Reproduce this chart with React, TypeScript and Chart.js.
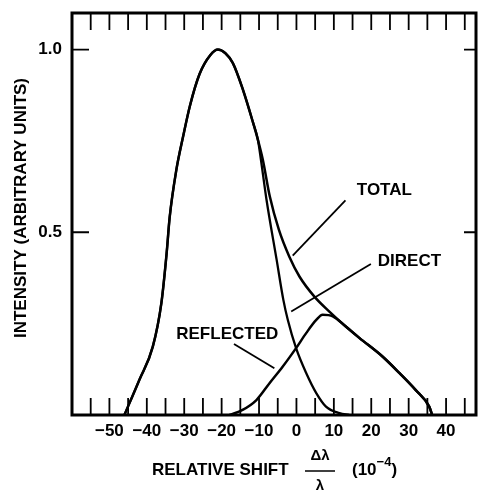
import React, { useEffect, useRef } from 'react';
import { Chart, registerables } from 'chart.js';

Chart.register(...registerables);

const FONT = "'Liberation Sans', Arial, Helvetica, sans-serif";

// DIRECT (large peak)
const directX = [-46, -42, -38.4, -36.1, -34.7, -33.9, -32.1, -30.3, -28.5, -25.9, -23, -21, -19, -17, -14.3, -11.6, -10.3, -9.5, -8.0, -5.3, -3.5, -2.3, -0.1, 2.6, 5.3, 7.9, 11.5, 14.1];
const directY = [0, 0.096, 0.187, 0.307, 0.443, 0.54, 0.671, 0.762, 0.845, 0.933, 0.985, 1.0, 0.99, 0.963, 0.89, 0.8, 0.753, 0.699, 0.589, 0.425, 0.315, 0.26, 0.183, 0.115, 0.06, 0.023, 0.005, 0];

// TOTAL
const totalX = [-46, -42, -38.4, -36.1, -34.7, -33.9, -32.1, -30.3, -28.5, -25.9, -23, -21, -19, -17, -14.3, -11.6, -10.3, -9.0, -7.1, -4.7, -1.9, 0.8, 4.8, 8.8, 13.2, 16.8, 23, 27.5, 31.9, 35.5, 36.3];
const totalY = [0, 0.096, 0.187, 0.307, 0.443, 0.54, 0.671, 0.762, 0.845, 0.933, 0.985, 1.0, 0.99, 0.963, 0.89, 0.8, 0.753, 0.699, 0.597, 0.507, 0.433, 0.379, 0.324, 0.283, 0.242, 0.211, 0.16, 0.115, 0.068, 0.023, 0];

// REFLECTED (small peak)
const reflectedX = [-17.9, -14.4, -10.7, -7.2, -3.7, -0.1, 2.6, 5.3, 7, 9.7, 13.2, 16.8, 23, 27.5, 31.9, 35.5, 36.3];
const reflectedY = [0, 0.014, 0.041, 0.087, 0.132, 0.183, 0.224, 0.26, 0.274, 0.27, 0.242, 0.211, 0.16, 0.115, 0.068, 0.023, 0];

// axes
const xMin = -60;
const xMax = 48;
const xStep = 5;
const yMin = 0;
const yMax = 1.1;
const yStep = 0.5;
const xLabelValues = [-50, -40, -30, -20, -10, 0, 10, 20, 30, 40];
const yLabelValues = [0.5, 1.0];

// annotations (data coordinates)
const noteTexts = ['TOTAL', 'DIRECT', 'REFLECTED'];
const noteX = [23.5, 30.2, -18.5];
const noteY = [0.618, 0.423, 0.225];
const leaderFromX = [13.1, 19.9, -16.7];
const leaderFromY = [0.587, 0.413, 0.194];
const leaderToX = [-1.0, -1.4, -5.9];
const leaderToY = [0.436, 0.283, 0.128];

const yTitle = 'INTENSITY (ARBITRARY UNITS)';
const xTitle = 'RELATIVE SHIFT';

function pts(xs: number[], ys: number[]) {
  return xs.map((x, i) => ({ x, y: ys[i] }));
}

const framePlugin = {
  id: 'frame',
  beforeDraw(chart: any) {
    const { ctx, width, height } = chart;
    ctx.save();
    ctx.fillStyle = '#fff';
    ctx.fillRect(0, 0, width, height);
    ctx.restore();
  },
  afterDraw(chart: any) {
    const { ctx, chartArea: a } = chart;
    const xs = chart.scales.x;
    const ys = chart.scales.y;
    ctx.save();
    ctx.strokeStyle = '#000';
    ctx.fillStyle = '#000';
    ctx.lineCap = 'butt';

    // inward ticks
    ctx.lineWidth = 1.8;
    xs.ticks.forEach((t: any) => {
      const v = t.value;
      if (v <= xMin || v >= xMax) return;
      const px = xs.getPixelForValue(v);
      ctx.beginPath();
      ctx.moveTo(px, a.top);
      ctx.lineTo(px, a.top + 17);
      ctx.moveTo(px, a.bottom);
      ctx.lineTo(px, a.bottom - 17);
      ctx.stroke();
    });
    ys.ticks.forEach((t: any) => {
      const v = t.value;
      if (v <= yMin || v >= yMax) return;
      const py = ys.getPixelForValue(v);
      ctx.beginPath();
      ctx.moveTo(a.left, py);
      ctx.lineTo(a.left + 17, py);
      ctx.moveTo(a.right, py);
      ctx.lineTo(a.right - 12, py);
      ctx.stroke();
    });

    // frame
    ctx.lineWidth = 3;
    ctx.strokeRect(a.left, a.top, a.right - a.left, a.bottom - a.top);

    // annotations
    ctx.font = `bold 17px ${FONT}`;
    ctx.textAlign = 'center';
    ctx.textBaseline = 'alphabetic';
    noteTexts.forEach((txt, i) => {
      ctx.fillText(txt, xs.getPixelForValue(noteX[i]), ys.getPixelForValue(noteY[i]) + 6);
      ctx.lineWidth = 1.8;
      ctx.beginPath();
      ctx.moveTo(xs.getPixelForValue(leaderFromX[i]), ys.getPixelForValue(leaderFromY[i]));
      ctx.lineTo(xs.getPixelForValue(leaderToX[i]), ys.getPixelForValue(leaderToY[i]));
      ctx.stroke();
    });

    // y title
    ctx.save();
    ctx.translate(a.left - 52, (a.top + a.bottom) / 2 - 6);
    ctx.rotate(-Math.PI / 2);
    ctx.textAlign = 'center';
    ctx.font = `bold 17px ${FONT}`;
    ctx.fillText(yTitle, 0, 6);
    ctx.restore();

    // x title
    const by = a.bottom + 60;
    ctx.textAlign = 'left';
    ctx.font = `bold 17px ${FONT}`;
    ctx.fillText(xTitle, a.left + 80, by);
    const fx = a.left + 248;
    ctx.textAlign = 'center';
    ctx.font = `bold 15px ${FONT}`;
    ctx.fillText('Δλ', fx, a.bottom + 45);
    ctx.fillText('λ', fx, a.bottom + 75);
    ctx.lineWidth = 1.5;
    ctx.beginPath();
    ctx.moveTo(fx - 15, a.bottom + 56);
    ctx.lineTo(fx + 15, a.bottom + 56);
    ctx.stroke();
    ctx.textAlign = 'left';
    let cx = a.left + 280;
    ctx.font = `bold 17px ${FONT}`;
    ctx.fillText('(10', cx, by);
    cx += ctx.measureText('(10').width;
    ctx.font = `bold 13px ${FONT}`;
    ctx.fillText('−4', cx, by - 9);
    cx += ctx.measureText('−4').width;
    ctx.font = `bold 17px ${FONT}`;
    ctx.fillText(')', cx, by);

    ctx.restore();
  },
};

export default function App() {
  const ref = useRef<HTMLCanvasElement | null>(null);

  useEffect(() => {
    document.body.style.margin = '0';
    if (!ref.current) return;
    const tickFont = { family: FONT, size: 17, weight: 'bold' as const };
    const chart = new Chart(ref.current, {
      type: 'line',
      data: {
        datasets: [
          {
            label: 'DIRECT',
            data: pts(directX, directY),
            borderColor: '#000',
            borderWidth: 2.3,
            pointRadius: 0,
            fill: false,
            cubicInterpolationMode: 'monotone',
          },
          {
            label: 'TOTAL',
            data: pts(totalX, totalY),
            borderColor: '#000',
            borderWidth: 2.5,
            pointRadius: 0,
            fill: false,
            cubicInterpolationMode: 'monotone',
          },
          {
            label: 'REFLECTED',
            data: pts(reflectedX, reflectedY),
            borderColor: '#000',
            borderWidth: 2.5,
            pointRadius: 0,
            fill: false,
            cubicInterpolationMode: 'monotone',
          },
        ],
      },
      options: {
        animation: false,
        responsive: true,
        maintainAspectRatio: false,
        layout: { padding: { top: 13, right: 9, left: 0, bottom: 0 } },
        plugins: { legend: { display: false }, tooltip: { enabled: false } },
        scales: {
          x: {
            type: 'linear',
            min: xMin,
            max: xMax,
            grid: { display: false, drawTicks: false },
            border: { display: false },
            ticks: {
              stepSize: xStep,
              includeBounds: false,
              autoSkip: false,
              maxRotation: 0,
              padding: 6,
              color: '#000',
              font: tickFont,
              callback: (v: any) => {
                const n = Number(v);
                if (!xLabelValues.some((l) => Math.abs(l - n) < 1e-6)) return '';
                return n < 0 ? '−' + Math.abs(n) : String(n);
              },
            },
            afterFit: (s: any) => {
              s.height = 76;
              s.paddingLeft = 0;
              s.paddingRight = 0;
            },
          },
          y: {
            type: 'linear',
            min: yMin,
            max: yMax,
            grid: { display: false, drawTicks: false },
            border: { display: false },
            ticks: {
              stepSize: yStep,
              includeBounds: false,
              autoSkip: false,
              padding: 10,
              color: '#000',
              font: tickFont,
              callback: (v: any) => {
                const n = Number(v);
                if (!yLabelValues.some((l) => Math.abs(l - n) < 1e-6)) return '';
                return n.toFixed(1);
              },
            },
            afterFit: (s: any) => {
              s.width = 72;
              s.paddingTop = 0;
              s.paddingBottom = 0;
            },
          },
        },
      },
      plugins: [framePlugin],
    });
    return () => chart.destroy();
  }, []);

  return (
    <div style={{ width: 485, height: 491, position: 'relative' }}>
      <canvas ref={ref} />
    </div>
  );
}
